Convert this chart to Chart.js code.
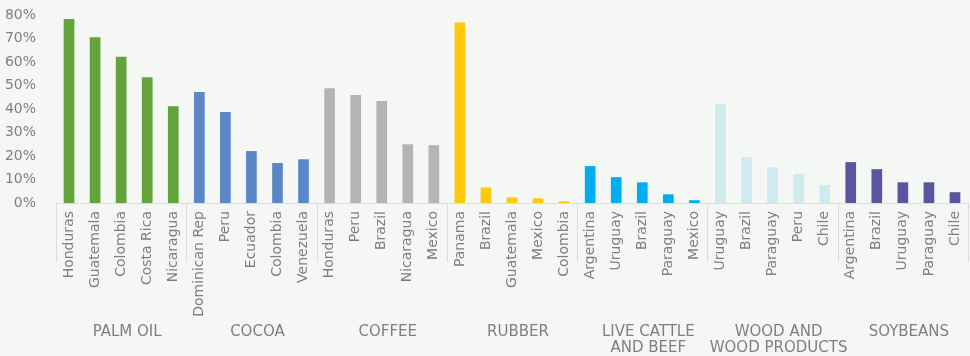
<!DOCTYPE html>
<html>
<head>
<meta charset="utf-8">
<script src="https://cdn.jsdelivr.net/npm/chart.js@4.4.0/dist/chart.umd.min.js"></script>
<style>
  html, body { margin: 0; padding: 0; background: #f5f7f5; }
  #wrap { width: 970px; height: 356px; position: relative; }
</style>
</head>
<body>
<div id="wrap"><canvas id="myChart"></canvas></div>
<script>
// commodity groups and the top countries in each
const groups = [
  ['PALM OIL'],
  ['COCOA'],
  ['COFFEE'],
  ['RUBBER'],
  ['LIVE CATTLE', 'AND BEEF'],
  ['WOOD AND', 'WOOD PRODUCTS'],
  ['SOYBEANS'],
];

const countries = [
  ['Honduras', 'Guatemala', 'Colombia', 'Costa Rica', 'Nicaragua'],
  ['Dominican Rep', 'Peru', 'Ecuador', 'Colombia', 'Venezuela'],
  ['Honduras', 'Peru', 'Brazil', 'Nicaragua', 'Mexico'],
  ['Panama', 'Brazil', 'Guatemala', 'Mexico', 'Colombia'],
  ['Argentina', 'Uruguay', 'Brazil', 'Paraguay', 'Mexico'],
  ['Uruguay', 'Brazil', 'Paraguay', 'Peru', 'Chile'],
  ['Argentina', 'Brazil', 'Uruguay', 'Paraguay', 'Chile'],
];

// share, in percent
const palmOil = [78.3, 70.5, 62.2, 53.5, 41.2];
const cocoa = [47.2, 38.7, 22.1, 17, 18.6];
const coffee = [48.8, 46, 43.4, 25, 24.6];
const rubber = [76.8, 6.6, 2.4, 2, 0.7];
const cattle = [15.7, 11, 8.8, 3.7, 1.2];
const wood = [42.2, 19.5, 15.2, 12.3, 7.6];
const soybeans = [17.4, 14.4, 8.8, 8.8, 4.6];

const yTicks = [0, 10, 20, 30, 40, 50, 60, 70, 80];

const groupColors = ['#62a33a', '#5b87c6', '#b4b4b4', '#ffc90b', '#00aeef', '#cfebef', '#5b55a0'];

const values = [palmOil, cocoa, coffee, rubber, cattle, wood, soybeans];
const labels = countries.flat();
const data = values.flat();
const colors = [];
countries.forEach((list, g) => list.forEach(() => colors.push(groupColors[g])));

const textColor = '#7f7f7f';
const family = "'DejaVu Sans', sans-serif";
const font = { family, size: 14 };

// separators under the axis and the commodity names
const groupAxis = {
  id: 'groupAxis',
  afterDraw(chart) {
    const { ctx, chartArea } = chart;
    const x = chart.scales.x;
    const step = x.getPixelForValue(1) - x.getPixelForValue(0);
    let start = 0;
    ctx.save();
    ctx.strokeStyle = '#dcdedc';
    ctx.lineWidth = 1;
    ctx.fillStyle = textColor;
    ctx.font = `15px ${family}`;
    ctx.textAlign = 'center';
    ctx.textBaseline = 'middle';
    countries.forEach((list, g) => {
      const left = x.getPixelForValue(start) - step / 2;
      const right = x.getPixelForValue(start + list.length - 1) + step / 2;
      [left, right].forEach(px => {
        ctx.beginPath();
        ctx.moveTo(Math.round(px) + 0.5, chartArea.bottom);
        ctx.lineTo(Math.round(px) + 0.5, chartArea.bottom + 59);
        ctx.stroke();
      });
      const cx = (left + right) / 2 + 6;
      groups[g].forEach((line, i) => {
        ctx.fillText(line, cx, 332 + i * 16);
      });
      start += list.length;
    });
    ctx.restore();
  }
};

const ctx = document.getElementById('myChart').getContext('2d');
new Chart(ctx, {
  type: 'bar',
  data: {
    labels,
    datasets: [{
      data,
      backgroundColor: colors,
      barPercentage: 0.41,
      categoryPercentage: 1,
    }],
  },
  options: {
    responsive: true,
    maintainAspectRatio: false,
    animation: false,
    layout: { padding: { top: 15, right: 2, left: 0, bottom: 0 } },
    plugins: { legend: { display: false }, tooltip: { enabled: false } },
    scales: {
      x: {
        grid: { display: false, drawTicks: false },
        border: { color: '#dcdedc', width: 1 },
        ticks: {
          color: textColor,
          font,
          minRotation: 90,
          maxRotation: 90,
          autoSkip: false,
          padding: 8,
        },
        afterFit(scale) {
          scale.height = 153;
          scale.paddingLeft = 0;
          scale.paddingRight = 0;
        },
      },
      y: {
        min: 0,
        max: 80,
        grid: { display: false, drawTicks: false },
        border: { display: false },
        afterBuildTicks(scale) { scale.ticks = yTicks.map(value => ({ value })); },
        ticks: {
          color: textColor,
          font,
          padding: 20,
          callback: v => v + '%',
        },
        afterFit(scale) {
          scale.width = 56;
          scale.paddingTop = 0;
          scale.paddingBottom = 0;
        },
      },
    },
  },
  plugins: [groupAxis],
});
</script>
</body>
</html>
